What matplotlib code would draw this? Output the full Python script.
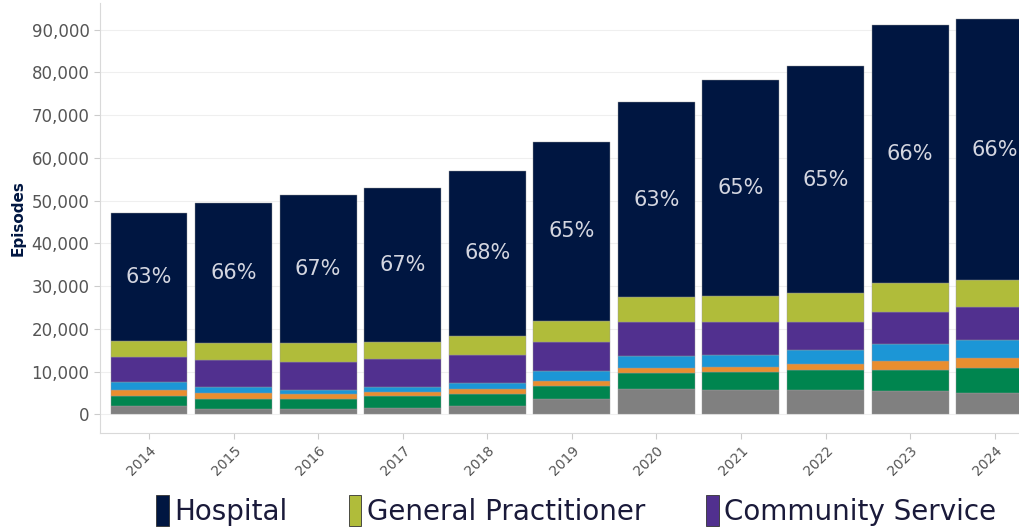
import matplotlib
matplotlib.use('Agg')
import matplotlib.pyplot as plt
from matplotlib.patches import Patch
import numpy as np

years = ['2014', '2015', '2016', '2017', '2018', '2019', '2020', '2021', '2022', '2023', '2024']

# stacked segments, bottom to top
gray = [1990, 1220, 1220, 1450, 2060, 3620, 5890, 5730, 5730, 5490, 5100]
green = [2410, 2480, 2410, 2950, 2670, 3040, 3740, 4210, 4680, 4910, 5700]
orange = [1260, 1260, 1170, 940, 1170, 1170, 1310, 1240, 1400, 2170, 2480]
lightBlue = [1870, 1540, 940, 1170, 1540, 2340, 2740, 2740, 3270, 3900, 4140]
community = [5990, 6240, 6620, 6480, 6480, 6850, 7880, 7650, 6620, 7410, 7790]
gp = [3670, 4040, 4440, 4040, 4510, 4910, 5850, 6220, 6640, 6780, 6240]
hospital = [29860, 32730, 34460, 35930, 38580, 41780, 45590, 50430, 53140, 60390, 61020]
hospitalPct = ['63%', '66%', '67%', '67%', '68%', '65%', '63%', '65%', '65%', '66%', '66%']

series = [gray, green, orange, lightBlue, community, gp, hospital]
colors = ['#808080', '#00854F', '#E98E2F', '#1C96D6', '#51308F', '#B0BC3A', '#001641']

fig = plt.figure(figsize=(10.2, 5.29), dpi=100)
ax = fig.add_axes([0.098, 0.1815, 0.902, 0.8125])

x = np.arange(len(years))
bottom = np.zeros(len(years))
for vals, col in zip(series, colors):
    ax.bar(x, vals, width=0.91, bottom=bottom, color=col, edgecolor='#9a9a9a', linewidth=0.3, zorder=3)
    bottom = bottom + np.array(vals)

# percentage labels in the middle of the hospital segment
hospBottom = bottom - np.array(hospital)
for i in range(len(years)):
    ax.text(x[i], hospBottom[i] + hospital[i] / 2, hospitalPct[i], ha='center', va='center',
            color='#d4d6e0', fontsize=15, zorder=4)

ax.set_xlim(-0.58, 10.3)
ax.set_ylim(-4330, 96200)
ax.set_yticks(np.arange(0, 90001, 10000))
ax.set_yticklabels([f'{v:,}' for v in range(0, 90001, 10000)], color='#555555', fontsize=12)
ax.set_xticks(x)
ax.set_xticklabels(years, rotation=45, ha='right', rotation_mode='anchor', color='#555555', fontsize=10)
ax.tick_params(axis='both', color='#cccccc', length=4)
ax.grid(axis='y', color='#efefef', linewidth=0.8, zorder=0)

for s in ['top', 'right']:
    ax.spines[s].set_visible(False)
for s in ['left', 'bottom']:
    ax.spines[s].set_color('#d9d9d9')

ax.set_ylabel('Episodes', fontsize=11, fontweight='bold', color='#001641', labelpad=4)

handles = [Patch(facecolor=colors[6], edgecolor='#333333', linewidth=0.6),
           Patch(facecolor=colors[5], edgecolor='#333333', linewidth=0.6),
           Patch(facecolor=colors[4], edgecolor='#333333', linewidth=0.6)]
fig.legend(handles, ['Hospital', 'General Practitioner', 'Community Service'],
           loc='center', bbox_to_anchor=(0.565, 0.035), ncol=3, frameon=False,
           fontsize=20, handlelength=0.45, handleheight=1.3, handletextpad=0.2,
           columnspacing=2.2, labelcolor='#1a1a3a')

fig.savefig('out.png', dpi=100)
